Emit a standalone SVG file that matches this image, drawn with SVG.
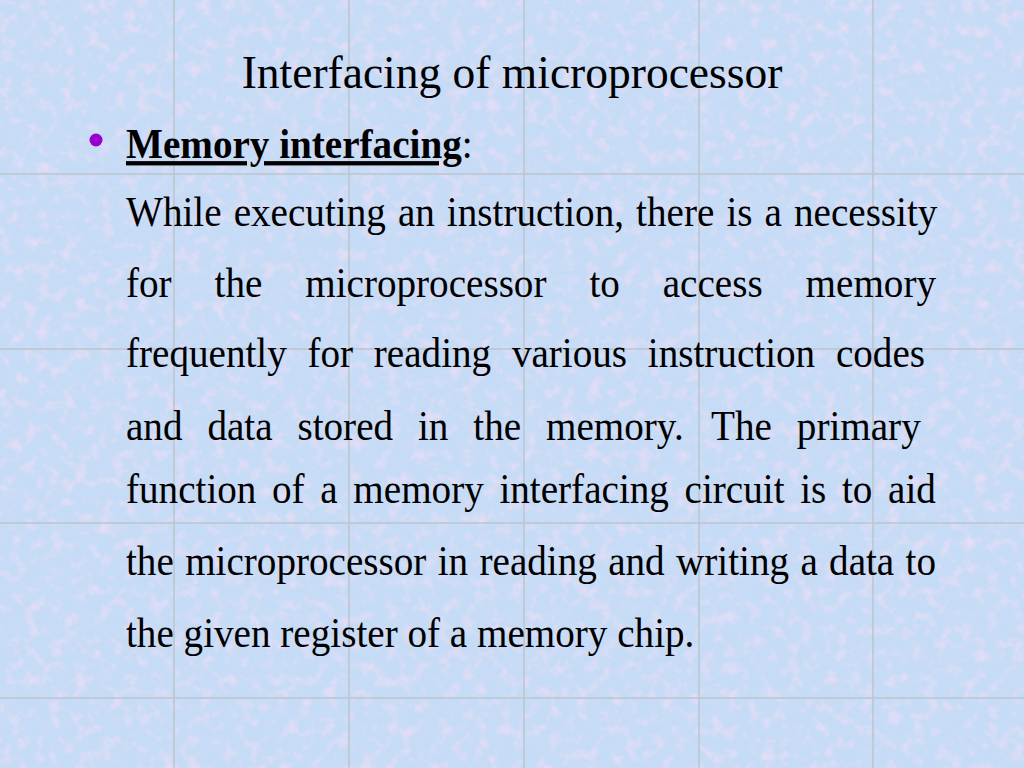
<svg xmlns="http://www.w3.org/2000/svg" width="1024" height="768" viewBox="0 0 1024 768">
<defs>
<filter id="tex" x="0" y="0" width="100%" height="100%">
<feTurbulence type="fractalNoise" baseFrequency="0.08" numOctaves="3" seed="7" result="n"/>
<feColorMatrix in="n" type="matrix" values="0 0 0 0 0.93  0 0 0 0 0.74  0 0 0 0 0.93  1.5 0 0 0 -0.72" result="pink"/>
<feComposite in="pink" in2="SourceGraphic" operator="over"/>
</filter>
<style>
.grid{stroke:#bcc4cc;stroke-width:1.5}
.t{font-family:"Liberation Serif","Times New Roman",serif;fill:#000}
.title{font-size:45.5px}
.body{font-size:43px}
</style>
</defs>
<g id="background">
<rect width="1024" height="768" fill="#c6dbf5" filter="url(#tex)"/>
<g class="grid">
<line x1="174" y1="0" x2="174" y2="768"/>
<line x1="349" y1="0" x2="349" y2="768"/>
<line x1="524" y1="0" x2="524" y2="768"/>
<line x1="699" y1="0" x2="699" y2="768"/>
<line x1="873" y1="0" x2="873" y2="768"/>
<line x1="0" y1="174" x2="1024" y2="174"/>
<line x1="0" y1="349" x2="1024" y2="349"/>
<line x1="0" y1="523" x2="1024" y2="523"/>
<line x1="0" y1="698" x2="1024" y2="698"/>
</g>
</g>
<g id="title">
<text class="t title" x="512" y="88" text-anchor="middle">Interfacing of microprocessor</text>
</g>
<g id="heading">
<circle cx="96" cy="140" r="6.5" fill="#9900cc"/>
<text class="t body" transform="scale(0.91 1)" x="138.46" y="158"><tspan font-weight="bold" text-decoration="underline">Memory interfacing</tspan>:</text>
</g>
<g id="paragraph" transform="scale(0.91 1)">
<text class="t body" y="226"><tspan x="138.46">While</tspan><tspan x="256.80">executing</tspan><tspan x="437.23">an</tspan><tspan x="491.07">instruction,</tspan><tspan x="699.02">there</tspan><tspan x="798.23">is</tspan><tspan x="840.16">a</tspan><tspan x="872.50">necessity</tspan></text>
<text class="t body" y="297"><tspan x="138.46">for</tspan><tspan x="235.75">the</tspan><tspan x="335.45">microprocessor</tspan><tspan x="647.70">to</tspan><tspan x="728.30">access</tspan><tspan x="885.27">memory</tspan></text>
<text class="t body" y="367"><tspan x="138.46">frequently</tspan><tspan x="337.94">for</tspan><tspan x="410.83">reading</tspan><tspan x="562.54">various</tspan><tspan x="711.88">instruction</tspan><tspan x="918.58">codes</tspan></text>
<text class="t body" y="440"><tspan x="138.46">and</tspan><tspan x="227.90">data</tspan><tspan x="326.89">stored</tspan><tspan x="459.33">in</tspan><tspan x="520.13">the</tspan><tspan x="600.03">memory.</tspan><tspan x="781.45">The</tspan><tspan x="875.67">primary</tspan></text>
<text class="t body" y="503"><tspan x="138.46">function</tspan><tspan x="298.98">of</tspan><tspan x="352.00">a</tspan><tspan x="388.29">memory</tspan><tspan x="548.81">interfacing</tspan><tspan x="752.29">circuit</tspan><tspan x="879.36">is</tspan><tspan x="925.24">to</tspan><tspan x="975.89">aid</tspan></text>
<text class="t body" y="575"><tspan x="138.46">the</tspan><tspan x="203.46">microprocessor</tspan><tspan x="481.01">in</tspan><tspan x="526.91">reading</tspan><tspan x="668.32">and</tspan><tspan x="742.86">writing</tspan><tspan x="879.54">a</tspan><tspan x="911.08">data</tspan><tspan x="995.17">to</tspan></text>
<text class="t body" y="647"><tspan x="138.46">the</tspan><tspan x="201.76">given</tspan><tspan x="308.06">register</tspan><tspan x="447.77">of</tspan><tspan x="494.34">a</tspan><tspan x="524.18">memory</tspan><tspan x="678.25">chip.</tspan></text>
</g>
</svg>
